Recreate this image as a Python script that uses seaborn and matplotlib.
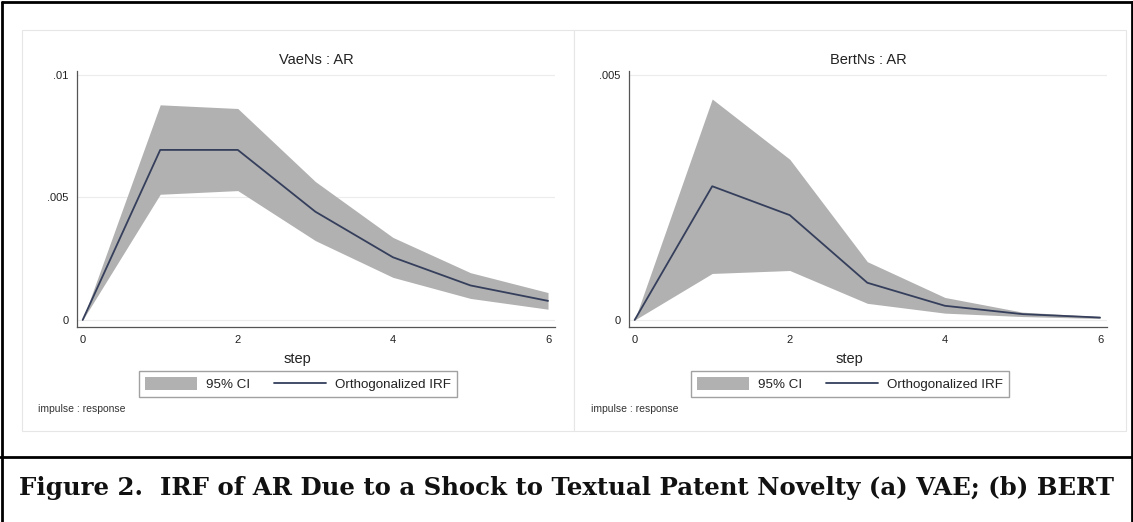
import numpy as np
import pandas as pd

import matplotlib
matplotlib.use("Agg")
import matplotlib.pyplot as plt
from matplotlib.patches import Patch, Rectangle
from matplotlib.lines import Line2D
from matplotlib.ticker import FixedLocator, FixedFormatter
import seaborn as sns


STEPS = [0, 1, 2, 3, 4, 5, 6]

VAE_IRF = [0, 0.00694, 0.00694, 0.00442, 0.00256, 0.00141, 0.00078]
VAE_HI = [0, 0.00878, 0.00863, 0.00565, 0.00337, 0.00193, 0.00112]
VAE_LO = [0, 0.00513, 0.00528, 0.00324, 0.00174, 0.00088, 0.00044]

BERT_IRF = [0, 0.00273, 0.00214, 0.00076, 0.00029, 0.00012, 0.00005]
BERT_HI = [0, 0.00451, 0.00328, 0.00119, 0.00046, 0.00016, 0.00007]
BERT_LO = [0, 0.00095, 0.00101, 0.00034, 0.00014, 0.00007, 0.00003]

X_TICKS = [0, 2, 4, 6]
VAE_YTICKS = [0, 0.005, 0.01]
VAE_YLABELS = ["0", ".005", ".01"]
BERT_YTICKS = [0, 0.005]
BERT_YLABELS = ["0", ".005"]

CAPTION = "Figure 2.  IRF of AR Due to a Shock to Textual Patent Novelty (a) VAE; (b) BERT"

CI_COLOR = "#b1b1b1"
LINE_COLOR = "#353f5c"
W, H = 1133, 522


def px_axes(fig, x0, x1, ytop, ybot):
    return fig.add_axes([x0 / W, 1 - ybot / H, (x1 - x0) / W, (ybot - ytop) / H])


def draw_panel(fig, ax, title, irf, lo, hi, yticks, ylabels, ylim, note_x):
    df = pd.DataFrame({"step": STEPS, "irf": irf, "lo": lo, "hi": hi})
    ax.fill_between(df["step"], df["lo"], df["hi"], color=CI_COLOR, linewidth=0, zorder=2)
    sns.lineplot(data=df, x="step", y="irf", ax=ax, color=LINE_COLOR, linewidth=1.3, zorder=3)

    ax.set_xlim(-0.073, 6.09)
    ax.set_ylim(*ylim)
    ax.xaxis.set_major_locator(FixedLocator(X_TICKS))
    ax.xaxis.set_major_formatter(FixedFormatter([str(t) for t in X_TICKS]))
    ax.yaxis.set_major_locator(FixedLocator(yticks))
    ax.yaxis.set_major_formatter(FixedFormatter(ylabels))
    ax.tick_params(axis="both", direction="out", length=4, width=0.8, color="#555555",
                   labelsize=8, labelcolor="#222222", pad=2)
    for t in yticks:
        ax.axhline(t, color="#ececec", linewidth=0.8, zorder=0)

    ax.set_facecolor("white")
    for side in ("top", "right"):
        ax.spines[side].set_visible(False)
    for side in ("left", "bottom"):
        ax.spines[side].set_color("#555555")
        ax.spines[side].set_linewidth(0.9)

    ax.set_title(title, fontsize=10.5, pad=5, color="#222222")
    ax.set_ylabel("")
    ax.set_xlabel("step", fontsize=10.5, color="#222222")
    ax.xaxis.set_label_coords(0.462, -0.098)

    handles = [Patch(facecolor=CI_COLOR, edgecolor="none"),
               Line2D([0], [0], color=LINE_COLOR, linewidth=1.3)]
    leg = ax.legend(handles, ["95% CI", "Orthogonalized IRF"], loc="center",
                    bbox_to_anchor=(0.462, -0.223), ncol=2, frameon=True, fancybox=False,
                    fontsize=9.6, handlelength=3.9, handleheight=1.05, handletextpad=0.68,
                    columnspacing=1.8, borderpad=0.45, borderaxespad=0)
    leg.get_frame().set_edgecolor("#8a8a8a")
    leg.get_frame().set_linewidth(1.0)
    for txt in leg.get_texts():
        txt.set_color("#222222")

    fig.text(note_x / W, 1 - 409 / H, "impulse : response", fontsize=7.5,
             color="#333333", ha="left", va="center")


def main() -> None:
    sns.set_theme(style="white")
    plt.rcParams["font.family"] = ["Liberation Sans", "DejaVu Sans"]

    fig = plt.figure(figsize=(W / 100, H / 100), dpi=100)
    fig.patch.set_facecolor("white")

    # panel backgrounds with faint frames
    for x0, x1 in ((22, 574), (574, 1126)):
        fig.add_artist(Rectangle((x0 / W, 1 - 431 / H), (x1 - x0) / W, (431 - 30) / H,
                                 transform=fig.transFigure, facecolor="white",
                                 edgecolor="#e6e6e6", linewidth=0.8, zorder=0))

    # outer black frame (open at the bottom) and caption separator
    top = 1 - 1.5 / H
    left, right = 1.5 / W, 1 - 1.5 / W
    for xs, ys in (([left, left], [0, top]), ([right, right], [0, top]),
                   ([left, right], [top, top]), ([0, 1], [1 - 457 / H, 1 - 457 / H])):
        fig.add_artist(Line2D(xs, ys, transform=fig.transFigure, color="black",
                              linewidth=2.0, zorder=5))

    ax1 = px_axes(fig, 77, 555, 71, 327)
    draw_panel(fig, ax1, "VaeNs : AR", VAE_IRF, VAE_LO, VAE_HI, VAE_YTICKS, VAE_YLABELS,
               (-0.000286, 0.01016), 38)

    ax2 = px_axes(fig, 629, 1107, 71, 327)
    draw_panel(fig, ax2, "BertNs : AR", BERT_IRF, BERT_LO, BERT_HI, BERT_YTICKS, BERT_YLABELS,
               (-0.000143, 0.005082), 591)

    cap = fig.text(0.5, 1 - 488 / H, CAPTION, ha="center", va="center",
                   family="DejaVu Serif", fontweight="bold", fontsize=16, color="#111111")
    fig.canvas.draw()
    w = cap.get_window_extent().width
    cap.set_fontsize(16 * 1093 / w)

    fig.savefig("out.png", dpi=100)
    plt.close(fig)


if __name__ == "__main__":
    main()
